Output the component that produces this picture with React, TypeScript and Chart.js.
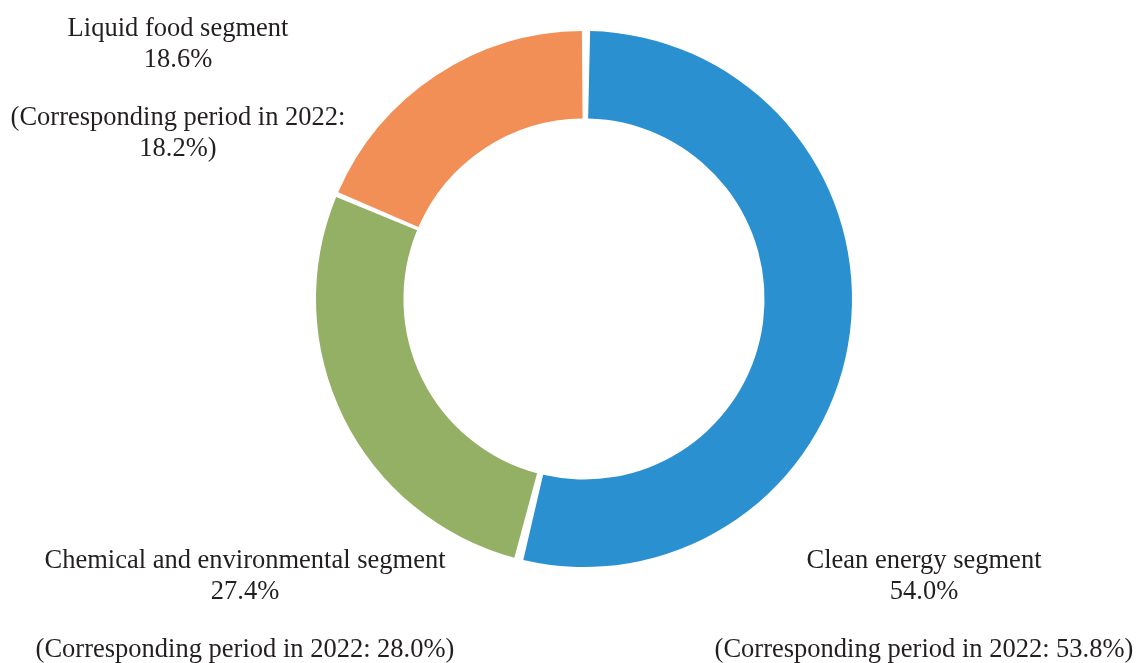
import React, { useEffect, useRef } from "react";
import { Chart, registerables } from "chart.js";

Chart.register(...registerables);

const categories = ["Clean energy segment", "Chemical and environmental segment", "Liquid food segment"];
const shares = [54.0, 27.4, 18.6];
const shares2022 = [53.8, 28.0, 18.2];
const colors = ["#2A90D0", "#93B064", "#F18F56"];

export default function App() {
  const ref = useRef<HTMLCanvasElement | null>(null);
  useEffect(() => {
    if (!ref.current) return;
    const labelPlugin = {
      id: "segLabels",
      afterDraw(chart: any) {
        const ctx = chart.ctx;
        ctx.save();
        ctx.fillStyle = "#231F20";
        ctx.font = "26.5px 'Liberation Serif', 'DejaVu Serif', serif";
        ctx.textAlign = "center";
        ctx.textBaseline = "middle";
        const blocks: { x: number; lines: [string, number][] }[] = [
          {
            x: 924,
            lines: [
              [categories[0], 561],
              [shares[0].toFixed(1) + "%", 592],
              ["(Corresponding period in 2022: " + shares2022[0].toFixed(1) + "%)", 650],
            ],
          },
          {
            x: 245,
            lines: [
              [categories[1], 561],
              [shares[1].toFixed(1) + "%", 592],
              ["(Corresponding period in 2022: " + shares2022[1].toFixed(1) + "%)", 650],
            ],
          },
          {
            x: 178,
            lines: [
              [categories[2], 29],
              [shares[2].toFixed(1) + "%", 60],
              ["(Corresponding period in 2022:", 118],
              [shares2022[2].toFixed(1) + "%)", 149],
            ],
          },
        ];
        for (const b of blocks) {
          for (const [t, y] of b.lines) ctx.fillText(t, b.x, y);
        }
        ctx.restore();
      },
    };
    const chart = new Chart(ref.current, {
      type: "doughnut",
      data: {
        labels: categories,
        datasets: [
          {
            data: shares,
            backgroundColor: colors,
            borderWidth: 0,
            spacing: 6,
          },
        ],
      },
      options: {
        animation: false,
        responsive: false,
        cutout: "67%",
        layout: { padding: { top: 31, bottom: 96, left: 316, right: 285 } },
        plugins: { legend: { display: false }, tooltip: { enabled: false } },
      },
      plugins: [labelPlugin],
    });
    return () => chart.destroy();
  }, []);
  return (
    <div style={{ position: "fixed", left: 0, top: 0, width: 1137, height: 663, background: "#fff" }}>
      <canvas ref={ref} width={1137} height={663} style={{ width: 1137, height: 663 }} />
    </div>
  );
}
